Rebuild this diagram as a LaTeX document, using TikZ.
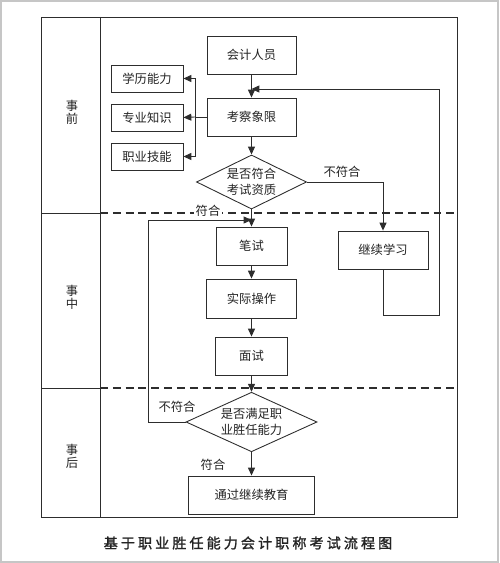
\documentclass[tikz,border=0pt]{standalone}
\usepackage{fontspec}
\usepackage{tikz}
\newfontfamily\cjk{Noto Sans CJK SC}
\newfontfamily\cjkcap[LetterSpace=22,FakeBold=1.5]{Noto Sans CJK SC}
\usetikzlibrary{positioning, calc, shapes.geometric, arrows.meta}
\definecolor{linegray}{RGB}{45,45,45}
\definecolor{txtgray}{RGB}{35,35,35}
\tikzset{
  line/.style={draw=linegray, line width=.5pt},
  arr/.style={line, -{Triangle[length=4.5pt,width=4pt]}},
  box/.style={line, rectangle, minimum height=.76cm, inner sep=1pt, text=txtgray,
    font=\cjk\fontsize{7}{9}\selectfont},
  dec/.style={line, diamond, inner sep=0pt, align=center, text=txtgray,
    font=\cjk\fontsize{7}{9}\selectfont},
  lab/.style={text=txtgray, inner sep=1pt, font=\cjk\fontsize{7}{9}\selectfont},
  lane/.style={text=txtgray, align=center, font=\cjk\fontsize{7}{7.5}\selectfont},
  dline/.style={draw=linegray, line width=1.1pt, dash pattern=on 4.5pt off 2.8pt}
}
\begin{document}
\begin{tikzpicture}
    \useasboundingbox (0,0) rectangle (10,-11.26);
    \draw[gray!45, line width=.8pt] (0.02,-0.02) rectangle (9.96,-11.24);
    \begin{scope}
    \draw[line] (0.82,-0.34) rectangle (9.14,-10.34);
    \draw[line] (2,-0.34) -- (2,-10.34);
    \draw[line] (0.82,-4.26) -- (2,-4.26);
    \draw[line] (0.82,-7.76) -- (2,-7.76);
    \draw[dline] (2,-4.26) -- (9.14,-4.26);
    \draw[dline] (2,-7.76) -- (9.14,-7.76);
    \node[lane] (P1) at (1.44,-2.24) {事\\前};
    \node[lane] (P2) at (1.44,-5.94) {事\\中};
    \node[lane] (P3) at (1.44,-9.12) {事\\后};
    \end{scope}
    \begin{scope}
    \node[box, minimum width=1.78cm] (A) at (5.03,-1.10) {会计人员};
    \node[box, minimum width=1.78cm] (B) at (5.03,-2.34) {考察象限};
    \node[box, minimum width=1.44cm, minimum height=.54cm] (C1) at (2.94,-1.57) {学历能力};
    \node[box, minimum width=1.44cm, minimum height=.54cm] (C2) at (2.94,-2.35) {专业知识};
    \node[box, minimum width=1.44cm, minimum height=.54cm] (C3) at (2.94,-3.13) {职业技能};
    \node[dec, minimum width=2.2cm, aspect=1.83] (D) at (5.03,-3.64) {是否符合\\考试资质};
    \node[box, minimum width=1.8cm] (E) at (7.66,-5.0) {继续学习};
    \node[box, minimum width=1.42cm] (F) at (5.03,-4.92) {笔试};
    \node[box, minimum width=1.8cm, minimum height=.78cm] (G) at (5.03,-5.97) {实际操作};
    \node[box, minimum width=1.44cm] (H) at (5.03,-7.12) {面试};
    \node[dec, minimum width=2.62cm, aspect=1.9] (I) at (5.03,-8.44) {是否满足职\\业胜任能力};
    \node[box, minimum width=2.52cm] (J) at (5.03,-9.9) {通过继续教育};
    \end{scope}
    \coordinate (K) at (3.9,-2.34);
    \coordinate (M) at (5.03,-1.78);
    \coordinate (N) at (5.03,-4.4);
    \draw[arr] (A) -- (B);
    \draw[arr] (B) -- (D);
    \draw[arr] (D) -- (F);
    \draw[arr] (F) -- (G);
    \draw[arr] (G) -- (H);
    \draw[arr] (H) -- (I);
    \draw[arr] (I) -- (J);
    \draw[line] (B.west) -- (K);
    \draw[line] (K |- C1) -- (K |- C3);
    \draw[arr] (K |- C1) -- (C1.east);
    \draw[arr] (K) -- (C2.east);
    \draw[arr] (K |- C3) -- (C3.east);
    \draw[arr] (D.east) -| (E.north);
    \draw[arr] (E.south) |- (8.78,-6.3) -- (8.78,-1.78) -- (M);
    \draw[arr] (I.west) -| (2.96,-4.4) -- (N);
    \node[lab] (L1) at (6.84,-3.44) {不符合};
    \node[lab, fill=white] (L2) at (4.16,-4.22) {符合};
    \node[lab] (L3) at (3.54,-8.14) {不符合};
    \node[lab] (L4) at (4.26,-9.3) {符合};
    \node[text=txtgray, font=\cjkcap\fontsize{8}{10}\selectfont] (T) at (4.96,-10.86) {基于职业胜任能力会计职称考试流程图};
\end{tikzpicture}
\end{document}
